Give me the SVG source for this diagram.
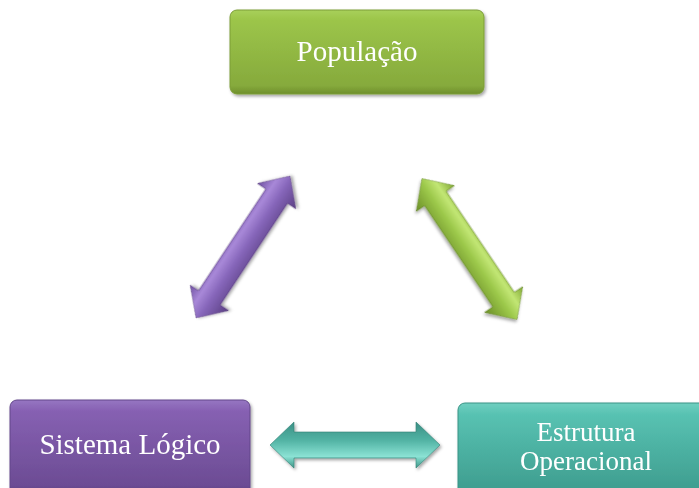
<svg xmlns="http://www.w3.org/2000/svg" width="699" height="488" viewBox="0 0 699 488">
<style>
.lbl{font-family:"Liberation Serif","Times New Roman",serif;fill:#ffffff;text-anchor:middle;font-size:29px}
.sm{font-size:27px}
.box{filter:url(#sh)}
</style>
<defs>
<filter id="sh" x="-10%" y="-10%" width="125%" height="130%">
<feDropShadow dx="1.5" dy="2" stdDeviation="1.8" flood-color="#000" flood-opacity="0.35"/>
</filter>
<linearGradient id="gG" x1="0" y1="0" x2="0" y2="1">
<stop offset="0" stop-color="#a8d05a"/><stop offset="0.12" stop-color="#9cc54a"/><stop offset="0.9" stop-color="#86aa3c"/><stop offset="1" stop-color="#6e8f2c"/>
</linearGradient>
<linearGradient id="gP" x1="0" y1="0" x2="0" y2="1">
<stop offset="0" stop-color="#9676c2"/><stop offset="0.12" stop-color="#8660b2"/><stop offset="0.9" stop-color="#6c4c94"/><stop offset="1" stop-color="#553a78"/>
</linearGradient>
<linearGradient id="gT" x1="0" y1="0" x2="0" y2="1">
<stop offset="0" stop-color="#6fcfc0"/><stop offset="0.12" stop-color="#58c2b2"/><stop offset="0.9" stop-color="#3f9e90"/><stop offset="1" stop-color="#2f8276"/>
</linearGradient>
<linearGradient id="aP" x1="0" y1="0" x2="0" y2="1">
<stop offset="0" stop-color="#6e50a0"/><stop offset="0.3" stop-color="#a888d8"/><stop offset="0.55" stop-color="#8666ba"/><stop offset="1" stop-color="#5a3e82"/>
</linearGradient>
<linearGradient id="aG" x1="0" y1="0" x2="0" y2="1">
<stop offset="0" stop-color="#7fa733"/><stop offset="0.3" stop-color="#c2e674"/><stop offset="0.55" stop-color="#9cc84a"/><stop offset="1" stop-color="#6b8e28"/>
</linearGradient>
<linearGradient id="aT" x1="0" y1="0" x2="0" y2="1">
<stop offset="0" stop-color="#3a8f84"/><stop offset="0.4" stop-color="#52b3a4"/><stop offset="0.75" stop-color="#8be2d4"/><stop offset="1" stop-color="#3c9486"/>
</linearGradient>
<polygon id="dar" points="-85,0 -61,-23 -61,-13 61,-13 61,-23 85,0 61,23 61,13 -61,13 -61,23"/>
</defs>

<g id="connectors">
<use href="#dar" fill="url(#aP)" stroke="#5a3f80" stroke-width="0.6" filter="url(#sh)" transform="translate(243,247) rotate(-56.5)"/>
<use href="#dar" fill="url(#aG)" stroke="#65862a" stroke-width="0.6" filter="url(#sh)" transform="translate(469.5,249) rotate(56)"/>
<use href="#dar" fill="url(#aT)" stroke="#2f7f73" stroke-width="0.6" filter="url(#sh)" transform="translate(355,445)"/>
</g>

<g id="populacao" class="box">
<rect x="230" y="10" width="254" height="84" rx="7" fill="url(#gG)" stroke="#7c9d36" stroke-width="1"/>
<text class="lbl" x="357" y="61">População</text>
</g>

<g id="sistema-logico" class="box">
<rect x="10" y="400" width="240" height="95" rx="7" fill="url(#gP)" stroke="#62468a" stroke-width="1"/>
<text class="lbl" x="130" y="454">Sistema Lógico</text>
</g>

<g id="estrutura-operacional" class="box">
<rect x="458" y="403" width="260" height="95" rx="7" fill="url(#gT)" stroke="#3a9486" stroke-width="1"/>
<text class="lbl sm" x="586" y="441">Estrutura</text>
<text class="lbl sm" x="586" y="470">Operacional</text>
</g>
</svg>
